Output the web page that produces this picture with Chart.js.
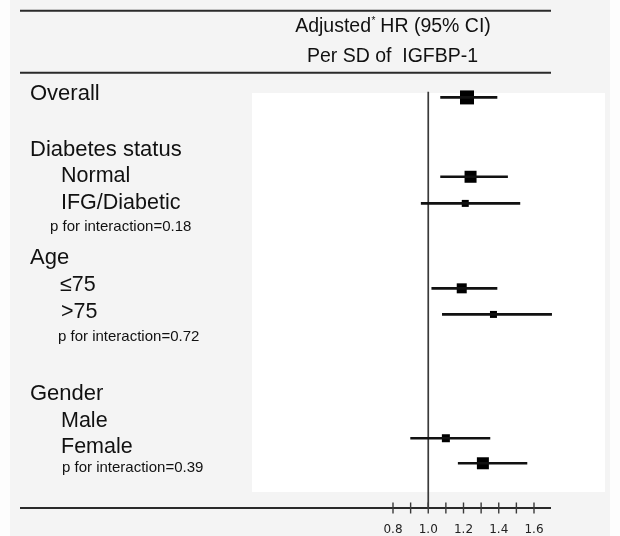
<!DOCTYPE html>
<html>
<head>
<meta charset="utf-8">
<script src="https://cdn.jsdelivr.net/npm/chart.js@4/dist/chart.umd.min.js"></script>
<style>
body{margin:0;background:#fff;}
canvas{display:block;}
</style>
</head>
<body>
<canvas id="forest" width="620" height="536"></canvas>
<script>
// subgroup estimates (HR per SD of IGFBP-1)
var groups = ['Overall', 'Normal', 'IFG/Diabetic', '\u226475', '>75', 'Male', 'Female'];
var hr = [1.22, 1.24, 1.21, 1.19, 1.37, 1.10, 1.31];
var ciLow = [1.07, 1.07, 0.96, 1.02, 1.08, 0.90, 1.17];
var ciHigh = [1.39, 1.45, 1.52, 1.39, 1.70, 1.35, 1.56];
var xTicks = [0.8, 1.0, 1.2, 1.4, 1.6];

// row of each estimate on the (reversed) y scale
var markerRow = [0.18, 3.16, 4.16, 7.35, 8.33, 12.98, 13.92];
// box side in px (weight)
var boxSide = [14, 12, 7, 10, 7, 8, 12];

// left hand text column
var labelText = ['Overall', 'Diabetes status', 'Normal', 'IFG/Diabetic', 'p for interaction=0.18',
  'Age', '\u226475', '>75', 'p for interaction=0.72',
  'Gender', 'Male', 'Female', 'p for interaction=0.39'];
var labelRow = [0.05, 2.16, 3.13, 4.13, 5.04, 6.22, 7.22, 8.23, 9.17, 11.32, 12.33, 13.3, 14.11];
var labelX = [30, 30, 61, 61, 50, 30, 60, 61, 58, 30, 61, 61, 62];
var labelSize = [22, 22, 21.5, 21.5, 15, 22, 21.5, 21.5, 15, 22, 21.5, 21.5, 15];

var FONT = '"Liberation Sans", Arial, sans-serif';

var decor = {
  id: 'decor',
  beforeDraw: function(chart){
    var ctx = chart.ctx, xs = chart.scales.x, ys = chart.scales.y, ca = chart.chartArea;
    ctx.save();
    ctx.fillStyle = '#fdfdfd';
    ctx.fillRect(0, 0, 620, 536);
    ctx.fillStyle = '#f4f4f4';
    ctx.fillRect(10, 0, 600, 536);
    ctx.fillStyle = '#ffffff';
    ctx.fillRect(252, 93, 353, 399);

    // rules
    ctx.strokeStyle = '#2a2a2a';
    ctx.lineWidth = 2;
    [10.7, 72.7, ca.bottom].forEach(function(y){
      ctx.beginPath(); ctx.moveTo(20, y); ctx.lineTo(551, y); ctx.stroke();
    });

    // header
    ctx.fillStyle = '#111';
    ctx.textBaseline = 'middle';
    ctx.font = '19.5px ' + FONT;
    var a = 'Adjusted', b = ' HR (95% CI)';
    var wa = ctx.measureText(a).width, wb = ctx.measureText(b).width;
    ctx.font = '10px ' + FONT;
    var ws = ctx.measureText('*').width;
    var x0 = 393 - (wa + ws + wb) / 2;
    ctx.font = '19.5px ' + FONT;
    ctx.textAlign = 'left';
    ctx.fillText(a, x0, 26.7);
    ctx.fillText(b, x0 + wa + ws, 26.7);
    ctx.font = '10px ' + FONT;
    ctx.fillText('*', x0 + wa + 0.5, 21);
    ctx.font = '19.5px ' + FONT;
    ctx.textAlign = 'center';
    ctx.fillText('Per SD of  IGFBP-1', 392.5, 56.7);

    // row labels
    ctx.textAlign = 'left';
    for (var i = 0; i < labelText.length; i++) {
      ctx.font = labelSize[i] + 'px ' + FONT;
      ctx.fillText(labelText[i], labelX[i], ys.getPixelForValue(labelRow[i]));
    }

    // line of no effect
    var x1 = xs.getPixelForValue(1);
    ctx.strokeStyle = '#3a3a3a';
    ctx.lineWidth = 1.7;
    ctx.beginPath(); ctx.moveTo(x1, ys.getPixelForValue(-0.03)); ctx.lineTo(x1, ca.bottom); ctx.stroke();

    // tick marks crossing the axis
    ctx.lineWidth = 1.4;
    xs.ticks.forEach(function(t){
      var px = xs.getPixelForValue(t.value);
      ctx.beginPath(); ctx.moveTo(px, ca.bottom - 5.5); ctx.lineTo(px, ca.bottom + 5.5); ctx.stroke();
    });
    ctx.restore();
  }
};

var ctx = document.getElementById('forest');
var chart = new Chart(ctx, {
  type: 'scatter',
  data: {
    datasets: [{
      type: 'bar',
      indexAxis: 'y',
      data: groups.map(function(g, i){ return {y: markerRow[i], x: [ciLow[i], ciHigh[i]]}; }),
      backgroundColor: '#111',
      borderWidth: 0,
      barThickness: 2,
      clip: false
    }, {
      type: 'scatter',
      data: groups.map(function(g, i){ return {x: hr[i], y: markerRow[i]}; }),
      pointStyle: 'rect',
      pointRadius: boxSide.map(function(s){ return s / Math.SQRT2; }),
      backgroundColor: '#000',
      borderWidth: 0,
      clip: false
    }]
  },
  options: {
    responsive: false,
    devicePixelRatio: 1,
    animation: false,
    layout: {padding: {left: 393, right: 86, top: 66, bottom: 0}},
    plugins: {legend: {display: false}, tooltip: {enabled: false}},
    scales: {
      x: {
        type: 'linear', min: 0.8, max: 1.6, offset: false,
        grid: {display: false},
        border: {display: false},
        afterFit: function(s){ s.height = 28; },
        ticks: {
          stepSize: 0.1,
          padding: 7,
          autoSkip: false,
          maxRotation: 0,
          minRotation: 0,
          color: '#222',
          font: {family: '"DejaVu Sans", Verdana, sans-serif', size: 12},
          callback: function(v){
            var t = Math.round(v * 10) / 10;
            return xTicks.indexOf(t) >= 0 ? t.toFixed(1) : '';
          }
        }
      },
      y: {type: 'linear', min: -1, max: 15.6, reverse: true, offset: false, display: false}
    }
  },
  plugins: [decor]
});
</script>
</body>
</html>
